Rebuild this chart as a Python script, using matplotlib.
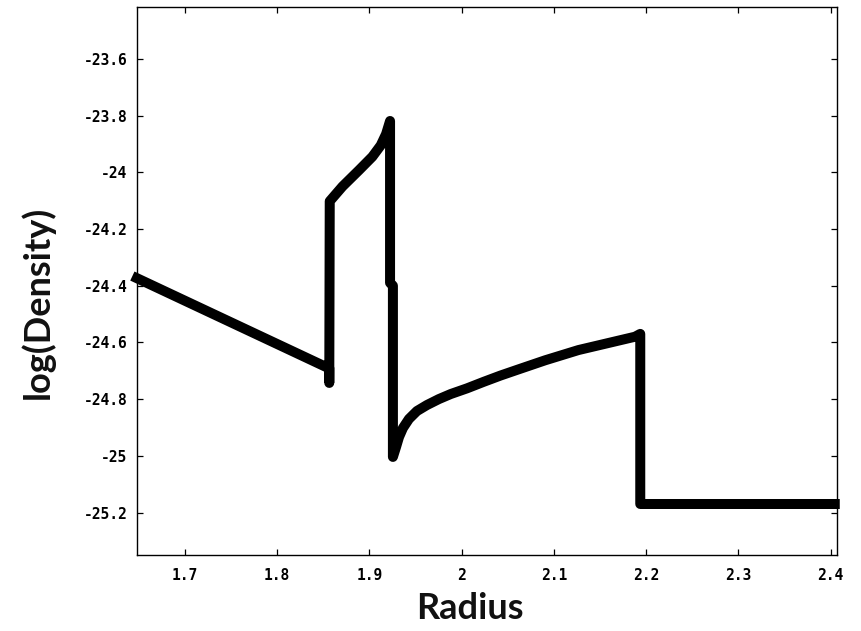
import matplotlib
matplotlib.use("Agg")
import matplotlib.pyplot as plt

# radius / log density profile
radius = [1.643, 1.8532, 1.8565, 1.8565, 1.8570, 1.8708, 1.8889, 1.9032, 1.9123,
          1.9181, 1.9224, 1.9224, 1.9255, 1.9255, 1.9289, 1.9321, 1.9364,
          1.9429, 1.9516, 1.9624, 1.9753, 1.9883, 2.0059, 2.0240, 2.0421,
          2.0600, 2.0907, 2.1267, 2.1880, 2.1937, 2.1937, 2.410]
log_density = [-24.366, -24.687, -24.690, -24.743, -24.102, -24.050, -23.992, -23.945, -23.905,
               -23.865, -23.819, -24.390, -24.400, -25.004, -24.969, -24.934, -24.902,
               -24.870, -24.842, -24.821, -24.800, -24.782, -24.762, -24.739, -24.717,
               -24.697, -24.663, -24.627, -24.580, -24.570, -25.170, -25.170]

xticks = [1.7, 1.8, 1.9, 2.0, 2.1, 2.2, 2.3, 2.4]
xtick_labels = ["1.7", "1.8", "1.9", "2", "2.1", "2.2", "2.3", "2.4"]
yticks = [-25.2, -25.0, -24.8, -24.6, -24.4, -24.2, -24.0, -23.8, -23.6]
ytick_labels = ["-25.2", "-25", "-24.8", "-24.6", "-24.4", "-24.2", "-24", "-23.8", "-23.6"]

fig = plt.figure(figsize=(8.61, 6.31), dpi=100)
ax = fig.add_axes([0.1591, 0.1204, 0.8130, 0.8685])

ax.plot(radius, log_density, color="black", linewidth=7.2,
        solid_joinstyle="round", solid_capstyle="butt", clip_on=False)

ax.set_xlim(1.648, 2.407)
ax.set_ylim(-25.35, -23.417)

tick_font = dict(family="DejaVu Sans Mono", weight="bold", size=10.5)
ax.set_xticks(xticks)
ax.set_xticklabels(xtick_labels, fontdict=tick_font)
ax.set_yticks(yticks)
ax.set_yticklabels(ytick_labels, fontdict=tick_font)
ax.tick_params(direction="in", length=4, width=0.9, top=True, right=True)
ax.tick_params(axis="x", pad=9)
ax.tick_params(axis="y", pad=7)
for sp in ax.spines.values():
    sp.set_linewidth(1.0)

fig.text(470 / 861, 0.035, "Radius", family="Lato", weight="bold", size=26,
         ha="center", va="center", color="#111111")
fig.text(37 / 861, 0.5206, "log(Density)", family="Lato", weight="bold", size=26,
         ha="center", va="center", rotation=90, color="#111111")

fig.savefig("out.png", dpi=100)
